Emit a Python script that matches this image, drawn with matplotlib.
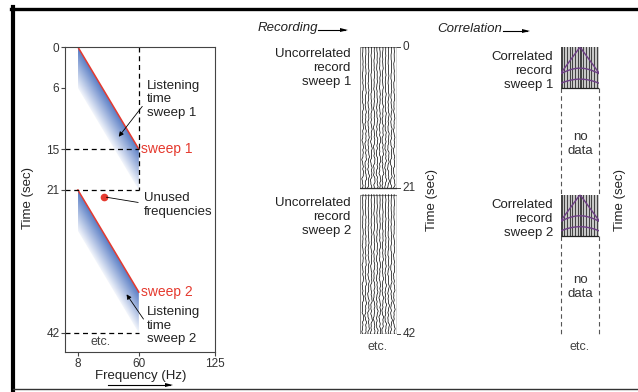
import numpy as np
import matplotlib.pyplot as plt
from matplotlib.colors import LinearSegmentedColormap
from matplotlib.patches import Polygon, Rectangle
from matplotlib.lines import Line2D

plt.rcParams['font.family'] = ['Liberation Sans', 'DejaVu Sans']

W, H = 638, 392

# ── Sweep diagram data ─────────────────────────────────
sweep_names = ["sweep 1", "sweep 2"]
sweep_start = [0, 21]          # s, start of each sweep (at 8 Hz)
sweep_len = 15                 # s, 8 -> 60 Hz
listen_len = 6                 # s
f_lo, f_hi = 8, 60
freq_ticks = [8, 60, 125]
time_ticks = [0, 6, 15, 21, 42]
dash_times = [15, 21, 42]
unused_pt = (30, 22)

# ── Recording / correlation columns ───────────────────
rec_boxes = [(0, 20.6), (21.6, 42)]
rec_ticks = [0, 20.6, 42]
rec_labels = ["0", "21", "42"]
n_traces = 12
corr_boxes = [(0, 6), (21.6, 27.6)]
nodata_spans = [(6, 21.6), (27.6, 42)]
n_stripes = 14
# hyperbolic events: (apex time, time at box edge) within each box
corr_events = [(0.1, 3.8), (3.1, 3.9), (4.7, 5.3)]

RED = "#e53a2f"
TXT = "#222222"
GRAY = "#444444"
LS = 1.2

def px_axes(x0, y0, x1, y1):
    return [x0 / W, 1 - y1 / H, (x1 - x0) / W, (y1 - y0) / H]

def ftext(px, py, s, **kw):
    kw.setdefault("fontsize", 9.5)
    kw.setdefault("color", TXT)
    fig.text(px / W, 1 - py / H, s, **kw)

def farrow(x0, x1, y):
    fig.add_artist(Line2D([x0 / W, (x1 - 3) / W], [1 - y / H] * 2,
                          color="black", lw=0.8))
    fig.patches.append(Polygon([(x1 / W, 1 - y / H), ((x1 - 8) / W, 1 - (y - 2) / H),
                                ((x1 - 8) / W, 1 - (y + 2) / H)], closed=True,
                               facecolor="black", transform=fig.transFigure))

fig = plt.figure(figsize=(W / 100, H / 100), dpi=100)

# ── Left panel: sweeps ─────────────────────────────────
ax = fig.add_axes(px_axes(65, 47, 215, 352))
cmap = LinearSegmentedColormap.from_list("sw", ["#587cc4", "#f2f5fb"])
xs = np.linspace(f_lo, f_hi, 300)
for s0, name in zip(sweep_start, sweep_names):
    ys = np.linspace(s0, s0 + sweep_len + listen_len, 400)
    X, Y = np.meshgrid(xs, ys)
    t = (Y - (s0 + sweep_len * (X - f_lo) / (f_hi - f_lo))) / listen_len
    poly = Polygon([(f_lo, s0), (f_hi, s0 + sweep_len),
                    (f_hi, s0 + sweep_len + listen_len), (f_lo, s0 + listen_len)],
                   closed=True, facecolor="none", edgecolor="none",
                   transform=ax.transData)
    ax.add_patch(poly)
    im = ax.imshow(np.clip(t, 0, 1), extent=(f_lo, f_hi, s0 + 21, s0),
                   origin="upper", cmap=cmap, vmin=0, vmax=1, aspect="auto",
                   interpolation="bilinear")
    im.set_clip_path(poly)
    ax.plot([f_lo, f_hi], [s0, s0 + sweep_len], color=RED, lw=1.1)
    ax.text(f_hi + 2, s0 + sweep_len, name, color=RED, fontsize=10,
            va="center", ha="left")

ax.set_xlim(-3, 125)
ax.set_ylim(44.8, 0)
ax.plot([f_hi, f_hi], [0, 21], color="black", lw=0.9, ls=(0, (4, 3)))
for tt in dash_times:
    ax.plot([-3, f_hi], [tt, tt], color="black", lw=0.9, ls=(0, (4, 3)),
            clip_on=False)

ax.set_xticks(freq_ticks)
ax.set_yticks(time_ticks)
ax.tick_params(direction="out", length=3, width=0.8, color=GRAY,
               labelsize=8.5, labelcolor="#333333", pad=1)
for sp in ax.spines.values():
    sp.set_color(GRAY)
    sp.set_linewidth(0.8)

ax.plot(*unused_pt, "o", color=RED, ms=4.5)
ax.annotate("", xy=unused_pt, xytext=(61.8, 22.9),
            arrowprops=dict(arrowstyle="-", color="black", lw=0.6))
ax.text(64.4, 23.2, "Unused\nfrequencies", fontsize=9.5, color=TXT,
        va="center", ha="left", linespacing=LS)

ax.text(67, 4.8, "Listening\ntime\nsweep 1", fontsize=9.5, color=TXT,
        va="top", ha="left", linespacing=LS)
ax.annotate("", xy=(41.4, 13.5), xytext=(64.4, 8.4),
            arrowprops=dict(arrowstyle="-|>", color="black", lw=0.6,
                            mutation_scale=7))
ax.text(67, 38.0, "Listening\ntime\nsweep 2", fontsize=9.5, color=TXT,
        va="top", ha="left", linespacing=LS)
ax.annotate("", xy=(48.2, 36.0), xytext=(65.3, 40.3),
            arrowprops=dict(arrowstyle="-|>", color="black", lw=0.6,
                            mutation_scale=7))
ax.text(27, 43.4, "etc.", fontsize=9, color=GRAY, ha="center", va="center")

ftext(28, 198, "Time (sec)", rotation=90, ha="center", va="center")
ftext(141, 376, "Frequency (Hz)", ha="center", va="center")
farrow(108, 173, 385)

# ── Middle: uncorrelated records ───────────────────────
axm = fig.add_axes(px_axes(360, 47, 397, 334))
axm.set_xlim(0, 13)
axm.set_ylim(42, 0)
axm.axis("off")
for b0, b1 in rec_boxes:
    tt = np.linspace(b0, b1, 300)
    for i in range(1, n_traces + 1):
        ph = 1.7 * i + 0.9 * i ** 2
        amp = 0.1 + 0.22 * (tt - b0) / (b1 - b0)
        w = (0.6 * np.sin(2 * np.pi * tt / 3.1 + ph)
             + 0.4 * np.sin(2 * np.pi * tt / 1.4 + 2.3 * ph)
             + 0.3 * np.sin(2 * np.pi * tt / 0.7 + 0.6 * ph))
        axm.plot(i + amp * w, tt, color="black", lw=0.5)
    axm.add_patch(Rectangle((0, b0), 13, b1 - b0, fill=False,
                            edgecolor="#888888", lw=0.8))
    axm.plot([13, 13], [b0, b1], color="black", lw=0.9)
    axm.plot([0, 13], [b1, b1], color="#333333", lw=0.9)
for tv, tl in zip(rec_ticks, rec_labels):
    axm.plot([13, 14.2], [tv, tv], color=GRAY, lw=0.7, clip_on=False)
    axm.text(15, tv, tl, fontsize=8.5, color="#333333", va="center",
             ha="left", clip_on=False)

ftext(351, 68, "Uncorrelated\nrecord\nsweep 1", ha="right", va="center",
      linespacing=LS)
ftext(351, 217, "Uncorrelated\nrecord\nsweep 2", ha="right", va="center",
      linespacing=LS)
ftext(378, 347, "etc.", fontsize=9, color=GRAY, ha="center", va="center")
ftext(432, 200, "Time (sec)", rotation=90, ha="center", va="center")
ftext(258, 28, "Recording", style="italic", ha="left", va="center")
farrow(318, 348, 30)

# ── Right: correlated records ──────────────────────────
axc = fig.add_axes(px_axes(561, 47, 599, 334))
axc.set_xlim(0, n_stripes)
axc.set_ylim(42, 0)
axc.axis("off")
for b0, b1 in corr_boxes:
    axc.add_patch(Rectangle((0, b0), n_stripes, b1 - b0, facecolor="#c8c8c8",
                            edgecolor="none"))
    for k in range(n_stripes):
        axc.add_patch(Rectangle((k + 0.15, b0), 0.45, b1 - b0,
                                facecolor="#444444", edgecolor="none"))
    xx = np.linspace(0, n_stripes, 100)
    xc = n_stripes / 2
    for t0, te in corr_events:
        v = xc / np.sqrt(te ** 2 - t0 ** 2)
        axc.plot(xx, b0 + np.sqrt(t0 ** 2 + ((xx - xc) / v) ** 2),
                 color="#6e3f86", lw=1.0)
    axc.plot([0, n_stripes], [b1, b1], color="#222222", lw=0.9)
for n0, n1 in nodata_spans:
    for xe in (0, n_stripes):
        axc.plot([xe, xe], [n0, n1], color="#555555", lw=0.8,
                 ls=(0, (4, 3)), clip_on=False)
    ftext(580, 47 + (n0 + n1) / 2 * 286 / 42 + 3, "no\ndata", color="#333333",
          ha="center", va="center", linespacing=LS)

ftext(553, 71, "Correlated\nrecord\nsweep 1", ha="right", va="center",
      linespacing=LS)
ftext(553, 219, "Correlated\nrecord\nsweep 2", ha="right", va="center",
      linespacing=LS)
ftext(580, 347, "etc.", fontsize=9, color=GRAY, ha="center", va="center")
ftext(620, 200, "Time (sec)", rotation=90, ha="center", va="center")
ftext(437, 29, "Correlation", style="italic", ha="left", va="center")
farrow(503, 530, 31)

# ── Frame ──────────────────────────────────────────────
fig.add_artist(Line2D([11 / W, 1], [1 - 8.5 / H] * 2, color="black", lw=2.4))
fig.add_artist(Line2D([13 / W, 13 / W], [0, 1 - 7 / H], color="black", lw=3))
fig.add_artist(Line2D([13 / W, 1], [1 - 389 / H] * 2, color="#333333", lw=1))

fig.savefig("out.png", dpi=100)
